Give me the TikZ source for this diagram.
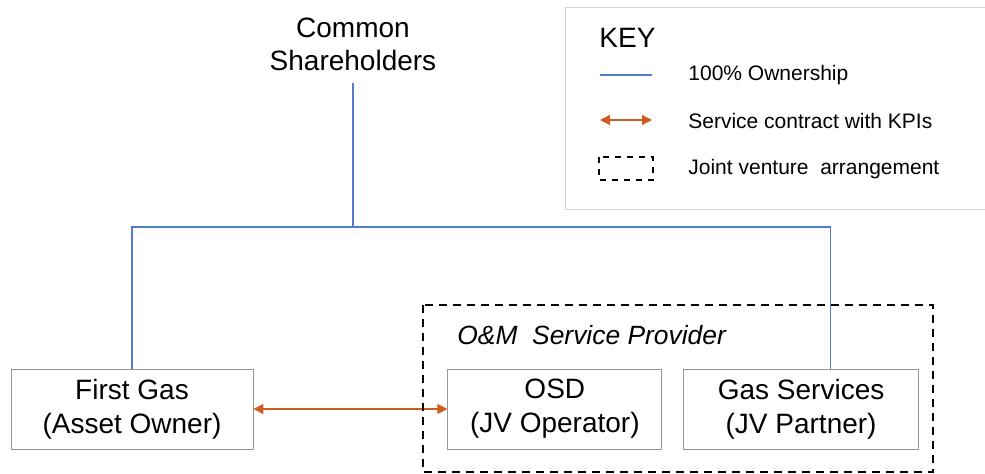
\documentclass[tikz,border=0pt]{standalone}
\usepackage{fontspec}
\setmainfont{Liberation Sans}
\usetikzlibrary{arrows.meta,positioning}
\definecolor{ownblue}{RGB}{84,124,204}
\definecolor{svcorange}{RGB}{204,94,34}
\definecolor{boxgray}{RGB}{150,150,150}
\definecolor{keygray}{RGB}{212,212,212}

\begin{document}
\begin{tikzpicture}
  [x=0.5pt,y=-0.5pt,
   entityN/.style={draw=boxgray,thin,align=center,minimum height=40pt,
     font=\fontsize{14}{17}\selectfont,inner sep=0pt},
   ownE/.style={draw=ownblue,semithick},
   svcE/.style={draw=svcorange,semithick,
     {Triangle[length=5pt,width=5pt]}-{Triangle[length=5pt,width=5pt]}},
   jvE/.style={draw=black,line width=1.1pt,dash pattern=on 4pt off 3pt},
   keyT/.style={anchor=west,font=\fontsize{10.5}{12}\selectfont,inner sep=0pt},
   node distance=10.5pt]

  \useasboundingbox (0,0) rectangle (985,474);

  \node[align=center,font=\fontsize{14}{16.5}\selectfont,inner sep=6pt]
    (share) at (353,44) {Common\\Shareholders};

  \node[entityN,minimum width=121pt]   (first) at (132,409)     {First Gas\\(Asset Owner)};
  \node[entityN,minimum width=107pt]   (osd)   [right=97pt of first] {OSD\\(JV Operator)};
  \node[entityN,minimum width=117.5pt] (gas)   [right=of osd]   {Gas Services\\(JV Partner)};

  \coordinate (bus) at (353,227);
  \draw[ownE] (share.south) -- (bus);
  \draw[ownE] (bus) -| (first.north);
  \draw[ownE] (bus) -| ([xshift=14.75pt]gas.north);

  \draw[svcE] (first) -- (osd);

  % joint venture
  \draw[jvE] (423,305) rectangle (933,472);
  \node[anchor=west,font=\itshape\fontsize{13.2}{15}\selectfont,inner sep=0pt]
    (jvlabel) at (457,335) {O\&M\ \ Service Provider};

  % key
  \draw[keygray] (565,7) rectangle (1000,209);
  \node[anchor=west,font=\fontsize{14}{16}\selectfont,inner sep=0pt] (key) at (599,38) {KEY};
  \coordinate (k1a) at (600,75);
  \coordinate (k1b) at (652,75);
  \draw[ownE] (k1a) -- (k1b);
  \node[keyT] (k1) at (688,75) {100\% Ownership};
  \coordinate (k2a) at (600,120);
  \coordinate (k2b) at (652,120);
  \draw[svcE] (k2a) -- (k2b);
  \node[keyT] (k2) at (688,121) {Service contract with KPIs};
  \draw[jvE,dash pattern=on 3pt off 3pt] (599,157) rectangle (653,180);
  \node[keyT] (k3) at (688,169) {Joint venture\ \ arrangement};
\end{tikzpicture}
\end{document}
